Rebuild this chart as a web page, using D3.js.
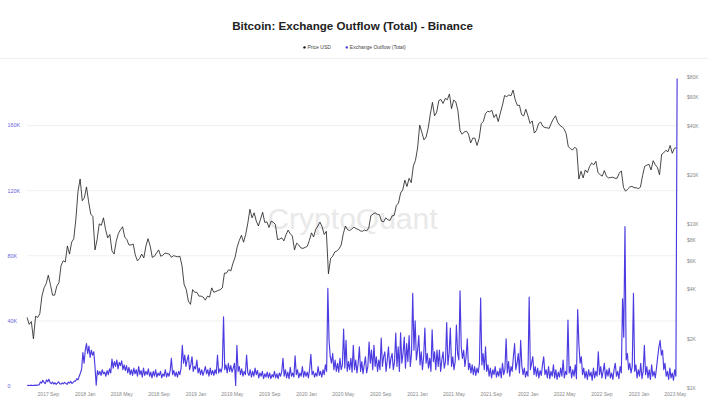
<!DOCTYPE html>
<html>
<head>
<meta charset="utf-8">
<script src="https://cdn.jsdelivr.net/npm/d3@7/dist/d3.min.js"></script>
<style>
  body { margin: 0; background: #fff; }
  svg { display: block; font-family: "Liberation Sans", Arial, sans-serif; }
</style>
</head>
<body>
<svg id="chart" width="709" height="411"></svg>
<script>
// exchange outflow (thousands BTC), one value every 4 days from the start date
const outflowStart = '2017-06-23';
const outflowStepDays = 4;
const outflowK = [
  0.3,0.4,0.3,0.5,0.4,0.3,0.5,0.4,0.6,0.5,
  0.8,2.5,1.8,3.5,2.2,1.5,3.8,2.6,4.2,2.0,
  1.5,2.4,1.2,2.0,1.0,1.8,2.6,1.4,1.1,1.9,
  1.3,2.2,1.6,1.0,2.4,1.8,2.8,1.5,2.2,3.0,
  3.0,4.5,3.8,6.0,8.0,10.5,20.5,14.0,22.0,26.0,
  20.0,24.5,17.5,22.0,19.0,21.0,12.0,0.5,9.5,7.0,
  9.0,6.5,10.0,7.5,8.5,6.0,9.5,7.0,10.5,8.0,
  16.5,11.0,15.0,12.0,16.0,10.5,14.5,12.5,15.5,10.0,
  13.0,9.5,12.5,8.0,11.5,7.0,10.0,6.5,11.0,7.5,
  10.0,6.0,12.0,7.0,9.5,5.5,11.0,6.5,9.0,7.0,
  10.5,6.0,8.5,5.0,9.0,6.0,10.0,5.5,8.0,6.5,
  9.0,5.0,7.5,6.0,10.0,5.5,8.0,6.0,9.5,17.0,
  7.0,9.5,6.0,8.5,5.5,9.0,7.0,11.0,25.0,14.0,
  19.0,12.0,16.0,19.0,10.0,13.0,18.0,9.0,12.0,10.5,
  16.0,8.0,11.0,7.0,10.0,6.5,9.0,12.0,7.5,10.0,
  6.0,11.0,7.0,9.5,6.5,10.0,7.5,19.0,8.0,10.5,
  8.5,12.0,42.5,10.0,13.0,8.0,14.0,9.0,12.5,8.5,
  11.0,14.0,0.3,25.0,9.0,12.0,7.0,10.5,6.0,9.0,
  7.0,19.0,8.0,6.5,10.0,5.5,9.0,6.0,11.0,7.0,
  9.5,5.0,8.0,6.0,9.0,4.5,7.5,5.5,8.5,5.0,
  8.0,4.5,7.0,5.5,9.0,5.0,7.5,4.5,8.0,6.0,
  9.0,17.0,6.0,10.0,5.0,8.5,4.5,11.5,6.0,8.0,
  5.5,18.5,7.0,10.0,5.0,8.0,6.0,12.0,5.5,9.0,
  6.0,8.5,5.0,10.5,19.5,7.0,9.0,5.5,8.0,6.0,
  12.0,6.5,9.0,5.5,10.0,7.0,13.0,9.0,60.0,28.0,
  18.0,14.0,20.0,10.0,16.0,9.0,14.0,8.5,17.0,10.0,
  13.0,35.0,11.0,28.0,9.0,15.0,10.0,17.0,8.5,25.0,
  10.0,16.0,8.0,14.0,24.0,9.0,15.0,7.5,13.0,18.0,
  8.0,12.0,27.0,14.0,22.0,10.0,25.0,12.0,18.0,9.0,
  16.0,10.0,29.5,12.0,18.0,21.0,9.0,16.0,24.0,11.0,
  17.0,20.0,10.0,15.0,32.5,12.0,24.0,9.0,32.7,14.0,
  20.0,30.0,11.0,26.0,15.0,31.0,12.0,20.0,57.0,22.0,
  40.0,16.0,22.0,31.0,13.0,21.0,10.0,18.0,35.6,14.0,
  20.0,11.0,17.0,9.0,34.5,15.0,21.0,10.0,22.0,12.0,
  22.0,9.0,16.0,21.0,11.0,15.0,39.0,13.0,20.0,35.6,
  12.0,18.0,10.0,15.0,37.5,20.0,16.0,58.5,24.0,17.0,
  22.0,12.0,18.0,29.0,10.0,14.0,8.0,13.0,7.0,12.0,
  6.5,11.0,8.0,14.0,54.0,13.0,20.0,10.0,24.0,9.0,
  13.0,6.0,11.0,5.0,10.0,7.0,12.0,5.5,9.0,6.0,
  11.0,5.0,14.0,7.0,10.0,29.0,8.0,15.0,6.0,12.0,
  9.0,18.0,26.0,10.0,14.0,20.0,8.0,28.0,12.0,7.0,
  11.0,5.5,9.0,6.0,54.6,10.0,14.0,18.0,7.0,12.0,
  6.0,11.0,5.0,9.5,6.5,13.0,18.0,7.0,10.0,5.0,
  12.0,4.5,9.0,6.0,13.0,5.0,10.0,4.0,8.5,5.5,
  11.0,6.0,16.0,5.0,9.0,7.0,40.5,8.0,12.0,5.0,
  10.0,6.0,13.0,4.5,47.0,26.0,14.0,18.0,7.0,11.0,
  5.0,9.0,4.0,10.0,6.0,8.5,3.5,11.0,5.0,9.0,
  6.0,21.0,7.0,12.0,5.0,9.0,14.0,4.5,10.0,6.0,
  11.0,5.0,8.0,4.0,10.0,14.0,6.0,9.0,4.5,12.0,
  8.0,53.5,30.0,98.0,16.0,20.0,10.0,14.0,8.0,12.0,
  57.0,9.0,13.0,5.0,10.0,6.0,14.0,4.5,9.0,25.0,
  7.0,12.0,5.0,10.0,4.0,13.0,6.0,9.0,5.0,11.0,
  18.0,24.0,28.0,19.0,22.0,10.0,14.0,6.0,9.0,4.0,
  11.0,5.0,8.0,3.5,10.0,6.0,189.0
];

// BTC price (USD), weekly values; each year starts on the Friday listed
const priceStarts = ['2017-06-23', '2018-01-05', '2019-01-04', '2020-01-03', '2021-01-01', '2022-01-07', '2023-01-06'];
const price2017 = [2700,2450,2550,2000,2750,2700,2850,3650,4100,4350,4900,4300,3700,3700,4200,4400,5600,6000,5900,7400,6600,7800,8200,10800,16000,19000,14000,14600];
const price2018 = [17000,13800,11600,11200,7000,8100,10100,9900,11000,9300,8300,8700,6900,6600,7900,8800,9300,9700,8400,8100,7500,7500,7600,6500,6000,6200,6600,6250,7400,8200,7400,6300,6400,6700,7000,6400,6500,6700,6650,6600,6300,6450,6400,6350,6400,5600,4300,4000,3400,3250,4000,3850];
const price2019 = [3850,3650,3650,3600,3450,3650,3600,4100,3850,3900,3950,4000,4100,5050,5050,5300,5200,5800,6300,7300,8000,8600,7800,8700,10200,12400,11000,11800,10500,9800,10800,11900,10300,10400,9600,10500,10350,10000,8100,8150,8300,7950,8650,9250,8800,8500,7000,7700,7500,7200,7150,7250];
const price2020 = [7350,8000,8900,8400,9350,9800,10350,9700,8700,9100,5000,6200,6400,6800,6900,7100,7500,8800,9800,9300,9200,9400,9650,9450,9350,9150,9100,9250,9150,9550,11350,11600,11800,11550,11500,10500,10400,11000,10700,10600,11300,11400,13100,13550,15600,16300,18700,17100,19200,18050,22800,24700];
const price2021 = [29400,40600,36700,33000,34300,38900,47400,55900,46300,48800,57300,58300,55100,59100,58100,63000,51200,57800,56400,49800,37500,35700,36900,37300,35800,31600,33800,33800,30500,33600,41500,42800,47800,49300,49000,50000,45200,47300,42700,48200,53900,61600,60700,62200,61400,66500,58100,53600,53700,47100,46200,50800,46300];
const price2022 = [41600,43100,36300,37700,41500,42400,40000,39200,39100,38800,41800,44300,46300,42300,40500,39700,38600,36000,30000,29200,28600,29700,29100,19000,21200,19300,21600,20800,22600,23800,23200,24400,20800,20200,19800,21400,19700,19300,19400,19500,19200,19200,20600,21300,16900,16000,16500,17000,17150,16800,16800,16600];
const price2023 = [16950,19900,22700,23100,23400,21600,24600,23200,22350,20200,26900,27500,28500,27900,30500,27300,29300,29500];
const priceYears = [price2017, price2018, price2019, price2020, price2021, price2022, price2023];

const leftTicks = [0, 40, 80, 120, 160];
const leftTickLabels = ['0', '40K', '80K', '120K', '160K'];
const rightTicks = [1000, 2000, 4000, 6000, 8000, 10000, 20000, 40000, 60000, 80000];
const rightTickLabels = ['$1K', '$2K', '$4K', '$6K', '$8K', '$10K', '$20K', '$40K', '$60K', '$80K'];
const xTickMonths = ['2017-09', '2018-01', '2018-05', '2018-09', '2019-01', '2019-05', '2019-09', '2020-01', '2020-05',
  '2020-09', '2021-01', '2021-05', '2021-09', '2022-01', '2022-05', '2022-09', '2023-01', '2023-05'];

const parseDay = d3.utcParse('%Y-%m-%d');
const parseMonth = d3.utcParse('%Y-%m');

const outflow = outflowK.map((v, i) => ({ date: d3.utcDay.offset(parseDay(outflowStart), i * outflowStepDays), value: v }));
const price = priceYears.flatMap((arr, k) => arr.map((v, i) => ({ date: d3.utcDay.offset(parseDay(priceStarts[k]), i * 7), value: v })));

const svg = d3.select('#chart');
const plotLeft = 27, plotRight = 678;

const x = d3.scaleUtc()
  .domain([parseMonth('2017-09'), parseMonth('2023-05')])
  .range([48.3, 675.3]);
const yLeft = d3.scaleLinear().domain([0, 160]).range([386, 125.6]);
const yRight = d3.scaleLog().domain([1000, 80000]).range([388, 77]);

// title + legend
svg.append('text')
  .attr('x', 352.5).attr('y', 30)
  .attr('text-anchor', 'middle')
  .attr('font-size', 11.6).attr('font-weight', 'bold').attr('fill', '#222')
  .text('Bitcoin: Exchange Outflow (Total) - Binance');

const legend = [
  { label: 'Price USD', color: '#111', x: 304.5 },
  { label: 'Exchange Outflow (Total)', color: '#4b3be0', x: 346.8 }
];
const lg = svg.append('g').selectAll('g').data(legend).enter().append('g');
lg.append('circle').attr('cx', d => d.x).attr('cy', 47.4).attr('r', 1.2).attr('fill', d => d.color);
lg.append('text').attr('x', d => d.x + 3).attr('y', 49.2)
  .attr('font-size', 5).attr('fill', '#444').text(d => d.label);

svg.append('line')
  .attr('x1', 0).attr('x2', 709).attr('y1', 58.5).attr('y2', 58.5)
  .attr('stroke', '#eeeeee').attr('stroke-width', 0.8);

// grid
svg.append('g').selectAll('line').data(leftTicks.filter(t => t > 0)).enter().append('line')
  .attr('x1', plotLeft).attr('x2', plotRight)
  .attr('y1', d => yLeft(d)).attr('y2', d => yLeft(d))
  .attr('stroke', '#e9e9e9').attr('stroke-width', 0.7);

// watermark
svg.append('text')
  .attr('x', 352.5).attr('y', 229)
  .attr('text-anchor', 'middle')
  .attr('font-size', 30).attr('fill', '#e9e9e9')
  .text('CryptoQuant');

// axes labels
svg.append('g').selectAll('text').data(leftTicks).enter().append('text')
  .attr('x', 7.5).attr('y', d => yLeft(d) + 1.8)
  .attr('font-size', 5.4).attr('fill', '#6b62d6')
  .text((d, i) => leftTickLabels[i]);

svg.append('g').selectAll('text').data(rightTicks).enter().append('text')
  .attr('x', 687).attr('y', d => yRight(d) + 1.8)
  .attr('font-size', 5).attr('fill', '#888')
  .text((d, i) => rightTickLabels[i]);

const fmt = d3.utcFormat('%Y %b');
svg.append('g').selectAll('text').data(xTickMonths.map(parseMonth)).enter().append('text')
  .attr('x', d => x(d)).attr('y', 395.5)
  .attr('text-anchor', 'middle')
  .attr('font-size', 5).attr('fill', '#888')
  .text(d => fmt(d));

// series
const priceLine = d3.line().x(d => x(d.date)).y(d => yRight(d.value));
svg.append('path').datum(price)
  .attr('d', priceLine)
  .attr('fill', 'none').attr('stroke', '#1a1a1a').attr('stroke-width', 0.8)
  .attr('stroke-linejoin', 'round');

const outflowLine = d3.line().x(d => x(d.date)).y(d => yLeft(d.value));
svg.append('path').datum(outflow)
  .attr('d', outflowLine)
  .attr('fill', 'none').attr('stroke', '#4b3be0').attr('stroke-width', 1.15)
  .attr('stroke-linejoin', 'round');
</script>
</body>
</html>
